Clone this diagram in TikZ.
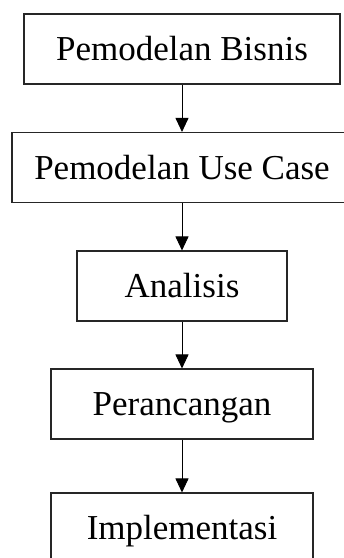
\documentclass[tikz,border=0pt]{standalone}
\usepackage{fontspec}
\setmainfont{Liberation Serif}
\usetikzlibrary{arrows.meta}
\begin{document}
\begin{tikzpicture}[x=1pt,y=-1pt,
  stage/.style={draw=black!85, line width=1.1pt, inner sep=0pt,
    minimum height=70pt, text height=23.2pt, text depth=0pt,
    font=\fontsize{35}{42}\selectfont},
  flow/.style={draw=black, line width=0.9pt,
    -{Triangle[width=13pt,length=14pt]}}]
\useasboundingbox (0,0) rectangle (344,558);
\node[stage, minimum width=316pt] (bisnis)  at (182,49)  {Pemodelan Bisnis};
\node[stage, minimum width=340pt] (usecase) at (182,167.5) {Pemodelan Use Case};
\node[stage, minimum width=210pt] (analisis) at (182,286) {Analisis};
\node[stage, minimum width=262pt] (rancang) at (182,404) {Perancangan};
\node[stage, minimum width=262pt] (impl)    at (182,528) {Implementasi};
\draw[flow] (bisnis.south) -- (usecase.north);
\draw[flow] (usecase.south) -- (analisis.north);
\draw[flow] (analisis.south) -- (rancang.north);
\draw[flow] (rancang.south) -- (impl.north);
\end{tikzpicture}
\end{document}
